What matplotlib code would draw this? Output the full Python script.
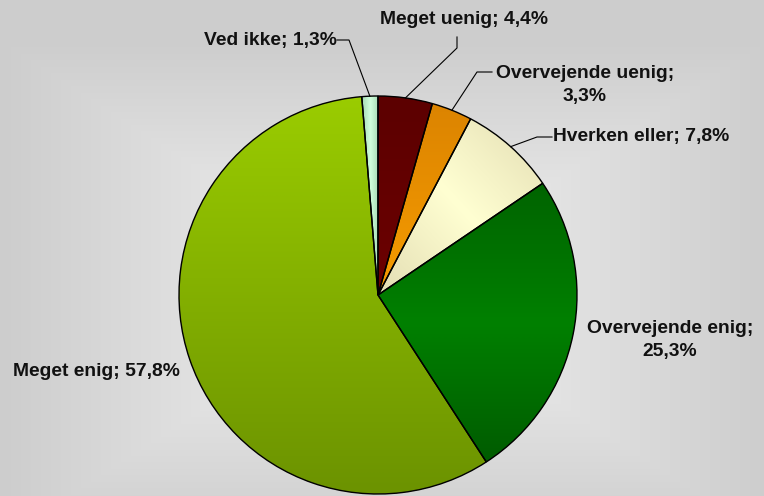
import numpy as np
import matplotlib.pyplot as plt
from matplotlib.colors import LinearSegmentedColormap
from matplotlib.patches import Wedge

# --- data ---
labels = ["Meget uenig", "Overvejende uenig", "Hverken eller",
          "Overvejende enig", "Meget enig", "Ved ikke"]
values = [4.4, 3.3, 7.8, 25.3, 57.8, 1.3]
label_text = ["Meget uenig; 4,4%", "Overvejende uenig;\n3,3%",
              "Hverken eller; 7,8%", "Overvejende enig;\n25,3%",
              "Meget enig; 57,8%", "Ved ikke; 1,3%"]

# gradient stops per slice and gradient direction
grad_stops = [
    ["#5c0000", "#6c0000"],
    ["#dc8400", "#f69c00"],
    ["#e4deb4", "#ffffd2", "#e4deb4"],
    ["#006400", "#008000", "#005c00"],
    ["#9acc00", "#6c9300"],
    ["#a6dab4", "#d0ffdc", "#a6dab4"],
]
grad_dir = ["v", "v", "d", "v", "v", "h"]

W, H = 764, 496
fig = plt.figure(figsize=(W / 100, H / 100), dpi=100)

# background: rectangular gradient, light in the middle
bg = fig.add_axes([0, 0, 1, 1])
bg.set_axis_off()
yy, xx = np.mgrid[0:H, 0:W]
t = np.maximum(np.abs(xx - 385) / (W / 2), np.abs(yy - 290) / (H / 2))
t = np.clip(t, 0, 1)
shade = 0.955 - 0.15 * t
bg.imshow(np.dstack([shade, shade, shade]), aspect="auto", extent=[0, W, H, 0])

ax = fig.add_axes([0, 0, 1, 1])
ax.set_axis_off()
ax.patch.set_alpha(0)


def py(y):
    # pixel row -> data y
    return H - y


cx, cy, r = 378, py(295), 199
wedges, _ = ax.pie(values, startangle=90, counterclock=False,
                   center=(cx, cy), radius=r, frame=True,
                   wedgeprops=dict(edgecolor="none"))
ax.set_xlim(0, W)
ax.set_ylim(0, H)
ax.set_aspect("equal")
ax.set_axis_off()

n = 64
for w, stops, d in zip(wedges, grad_stops, grad_dir):
    ext = w.get_path().get_extents()
    x0, y0, x1, y1 = ext.x0, ext.y0, ext.x1, ext.y1
    cmap = LinearSegmentedColormap.from_list("g", stops)
    gy, gx = np.mgrid[0:n, 0:n] / (n - 1)   # gy = 0 at top row
    if d == "v":
        arr = gy
    elif d == "h":
        arr = gx
    else:
        arr = (gx + 1 - gy) / 2
    img = ax.imshow(arr, cmap=cmap, vmin=0, vmax=1, extent=[x0, x1, y0, y1],
                    origin="upper", aspect="auto", zorder=1.5,
                    interpolation="bilinear")
    img.set_clip_path(w)
    edge = Wedge(w.center, w.r, w.theta1, w.theta2, facecolor="none",
                 edgecolor="black", linewidth=1.0, zorder=2)
    ax.add_patch(edge)

# label positions (text centre, pixel coords) and elbow of leader lines
text_pos = [(464, 20), (585, 85), (641, 136), (670, 340), (96, 371), (270, 40)]
elbows = [[(457, 37), (457, 48)], [(492, 72), (477, 72)],
          [(552, 137), (537, 137)], None, None,
          [(337, 40), (349, 40)]]

for w, txt, (tx, ty), el in zip(wedges, label_text, text_pos, elbows):
    ax.text(tx, py(ty), txt, ha="center", va="center", fontsize=13.9,
            fontweight="bold", color="#111111", linespacing=1.5,
            family=["Liberation Sans", "DejaVu Sans"], zorder=3)
    if el is not None:
        mid = np.deg2rad((w.theta1 + w.theta2) / 2)
        ex, ey = cx + r * np.cos(mid), cy + r * np.sin(mid)
        xs = [p[0] for p in el] + [ex]
        ys = [py(p[1]) for p in el] + [ey]
        ax.plot(xs, ys, color="black", linewidth=0.8, zorder=3)

fig.savefig("out.png", dpi=100)
